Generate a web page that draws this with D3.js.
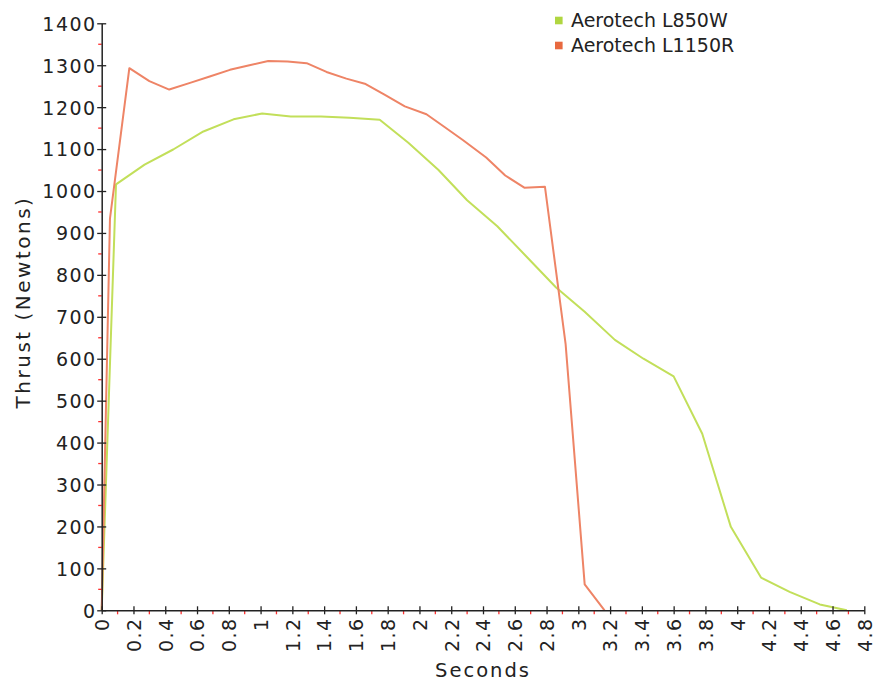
<!DOCTYPE html>
<html>
<head>
<meta charset="utf-8">
<script src="https://cdn.jsdelivr.net/npm/d3@7"></script>
<style>
  html, body { margin: 0; padding: 0; background: #fff; }
  svg { display: block; }
  text { font-family: "DejaVu Sans", Verdana, sans-serif; fill: #222; }
</style>
</head>
<body>
<svg id="chart" width="878" height="683"></svg>
<script>
// ---- Data ----
const seriesNames = ["Aerotech L850W", "Aerotech L1150R"];

const l850wTime   = [0, 0.09, 0.27, 0.45, 0.64, 0.83, 1.01, 1.19, 1.38, 1.56, 1.75, 1.93, 2.12, 2.30, 2.49, 2.67, 2.86, 3.04, 3.23, 3.41, 3.60, 3.78, 3.96, 4.15, 4.33, 4.52, 4.69];
const l850wThrust = [0, 1016, 1063, 1099, 1142, 1171, 1185, 1178, 1178, 1175, 1170, 1115, 1050, 978, 916, 845, 770, 712, 645, 600, 558, 421, 199, 78, 44, 14, 0];

const l1150rTime   = [0, 0.052, 0.174, 0.30, 0.425, 0.556, 0.68, 0.807, 0.93, 1.048, 1.17, 1.29, 1.415, 1.54, 1.656, 1.78, 1.908, 2.044, 2.16, 2.275, 2.42, 2.54, 2.66, 2.79, 2.92, 3.04, 3.165];
const l1150rThrust = [0, 934, 1293, 1262, 1242, 1258, 1273, 1289, 1300, 1310, 1309, 1305, 1284, 1268, 1256, 1230, 1202, 1183, 1152, 1121, 1080, 1037, 1008, 1010, 635, 62, 0];

const xTicks = [0, 0.2, 0.4, 0.6, 0.8, 1, 1.2, 1.4, 1.6, 1.8, 2, 2.2, 2.4, 2.6, 2.8, 3, 3.2, 3.4, 3.6, 3.8, 4, 4.2, 4.4, 4.6, 4.8];
const yTicks = [0, 100, 200, 300, 400, 500, 600, 700, 800, 900, 1000, 1100, 1200, 1300, 1400];

const lineColors = ["#c2df5a", "#ee8466"];
const swatchColors = ["#b0d640", "#e8693f"];

// ---- Layout ----
const svg = d3.select("#chart");
const plotLeft = 101.7, plotRight = 864.3, plotTop = 23.3, plotBottom = 610.3;

const x = d3.scaleLinear().domain([0, 4.8]).range([plotLeft, plotRight]);
const y = d3.scaleLinear().domain([0, 1400]).range([plotBottom, plotTop]);

const series = [
  l850wTime.map((t, i) => [t, l850wThrust[i]]),
  l1150rTime.map((t, i) => [t, l1150rThrust[i]])
];

const line = d3.line().x(d => x(d[0])).y(d => y(d[1]));

// lines
series.forEach((s, i) => {
  svg.append("path")
    .datum(s)
    .attr("fill", "none")
    .attr("stroke", lineColors[i])
    .attr("stroke-width", 2)
    .attr("stroke-linejoin", "round")
    .attr("d", line);
});

// minor ticks (red)
const xMinor = d3.range(0, 24).map(i => xTicks[i] + 0.1);
const yMinor = d3.range(0, 14).map(i => yTicks[i] + 50);

const minorG = svg.append("g");
minorG.selectAll("line.xm").data(xMinor).join("line")
  .attr("x1", d => x(d)).attr("x2", d => x(d))
  .attr("y1", plotBottom).attr("y2", plotBottom + 4)
  .attr("stroke", "#ff3030").attr("stroke-width", 1.3);
minorG.selectAll("line.ym").data(yMinor).join("line")
  .attr("x1", plotLeft - 3.5).attr("x2", plotLeft)
  .attr("y1", d => y(d)).attr("y2", d => y(d))
  .attr("stroke", "#ff3030").attr("stroke-width", 1.3);

// axes
const xAxis = d3.axisBottom(x).tickValues(xTicks).tickSize(0).tickFormat(d3.format("~g"));
const gx = svg.append("g").attr("transform", `translate(0,${plotBottom})`).call(xAxis);
gx.select(".domain").attr("stroke", "#222").attr("stroke-width", 1.5);
gx.selectAll(".tick line").remove();
gx.selectAll(".tick").append("line")
  .attr("y1", -4).attr("y2", 4).attr("stroke", "#222").attr("stroke-width", 1.3);
gx.selectAll(".tick text")
  .attr("font-size", 19)
  .attr("letter-spacing", "1.5px")
  .attr("fill", "#222")
  .attr("text-anchor", "end")
  .attr("transform", "rotate(-90)")
  .attr("x", -7)
  .attr("y", 0)
  .attr("dy", "0.36em");

const yAxis = d3.axisLeft(y).tickValues(yTicks).tickSize(0).tickFormat(d3.format("d"));
const gy = svg.append("g").attr("transform", `translate(${plotLeft},0)`).call(yAxis);
gy.select(".domain").attr("stroke", "#222").attr("stroke-width", 1.5);
gy.selectAll(".tick line").remove();
gy.selectAll(".tick").append("line")
  .attr("x1", -4.5).attr("x2", 4.5).attr("stroke", "#222").attr("stroke-width", 1.3);
gy.selectAll(".tick text")
  .attr("font-size", 19)
  .attr("letter-spacing", "1.5px")
  .attr("fill", "#222")
  .attr("x", -5)
  .attr("dy", "0.36em");

// axis titles
svg.append("text")
  .attr("x", 483).attr("y", 677)
  .attr("text-anchor", "middle")
  .attr("font-size", 19.5)
  .attr("letter-spacing", "2px")
  .text("Seconds");

svg.append("text")
  .attr("transform", "translate(30,302) rotate(-90)")
  .attr("text-anchor", "middle")
  .attr("font-size", 20)
  .attr("letter-spacing", "2.5px")
  .text("Thrust (Newtons)");

// legend
const legend = svg.append("g");
seriesNames.forEach((name, i) => {
  const cy = 20.5 + i * 25;
  legend.append("rect")
    .attr("x", 555).attr("y", cy - 3.8)
    .attr("width", 7.6).attr("height", 7.6)
    .attr("fill", swatchColors[i]);
  legend.append("text")
    .attr("x", 571).attr("y", cy)
    .attr("dy", "0.36em")
    .attr("font-size", 19)
    .attr("fill", "#444")
    .text(name);
});
</script>
</body>
</html>
